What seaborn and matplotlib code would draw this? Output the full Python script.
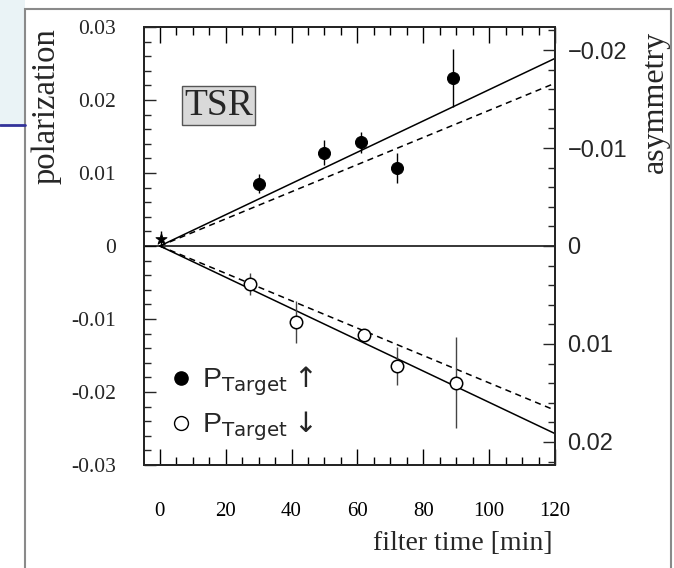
import numpy as np
import pandas as pd
import matplotlib
matplotlib.use("Agg")
import matplotlib.pyplot as plt
import seaborn as sns
from matplotlib.lines import Line2D
from matplotlib.patches import Rectangle
from matplotlib.ticker import MultipleLocator, FixedLocator, FixedFormatter

# values
up_time = [30, 50, 61, 72, 89]
up_pol = [0.0085, 0.0128, 0.0142, 0.0107, 0.0230]
up_err = [0.0013, 0.0017, 0.0014, 0.0021, 0.0040]

down_time = [27.5, 41.5, 62, 72, 90]
down_pol = [-0.0052, -0.0104, -0.0122, -0.0164, -0.0187]
down_err = [0.0015, 0.0029, 0.0008, 0.0026, 0.0062]

star_time = [0.3]
star_pol = [0.001]
star_err = [0.0011]

fit_time = [0, 120]
fit_up_solid = [0, 0.0257]
fit_up_dash = [0, 0.0223]
fit_down_solid = [0, -0.0257]
fit_down_dash = [0, -0.0225]

pol_ticks = [-0.03, -0.02, -0.01, 0, 0.01, 0.02, 0.03]
pol_labels = ['-0.03', '-0.02', '-0.01', '0', '0.01', '0.02', '0.03']
asym_ticks = [-0.02, -0.01, 0, 0.01, 0.02]
asym_labels = ['\u22120.02', '\u22120.01', '0', '0.01', '0.02']
time_ticks = [0, 20, 40, 60, 80, 100, 120]

sns.set_theme(style="ticks")
plt.rcParams['font.family'] = ['Liberation Serif', 'DejaVu Serif']
plt.rcParams['mathtext.fontset'] = 'custom'
plt.rcParams['mathtext.rm'] = 'Liberation Sans'
plt.rcParams['mathtext.sf'] = 'Liberation Sans Narrow'

W, H = 674, 568
fig = plt.figure(figsize=(W / 100, H / 100), dpi=100)
fig.patch.set_facecolor('white')

# slide decoration: pale blue corner, blue rule, grey frame
fig.patches.append(Rectangle((0, 1 - 125 / H), 25 / W, 125 / H, transform=fig.transFigure,
                             facecolor='#eaf3f6', edgecolor='none', zorder=0))
fig.lines.append(Line2D([0, 25 / W], [1 - 125 / H, 1 - 125 / H], transform=fig.transFigure,
                        color='#33339a', lw=2))
fig.patches.append(Rectangle((25 / W, -0.05), 646 / W, 1.05 - 9 / H, transform=fig.transFigure,
                             facecolor='none', edgecolor='#8a8a8a', lw=1.5, zorder=1))

ax = fig.add_axes([144 / W, 1 - 465 / H, 411 / W, 438 / H])
ax.set_facecolor('none')

# fit lines
lines = pd.DataFrame({'t': fit_time * 4,
                      'p': fit_up_solid + fit_up_dash + fit_down_solid + fit_down_dash,
                      'fit': ['us'] * 2 + ['ud'] * 2 + ['ds'] * 2 + ['dd'] * 2})
sns.lineplot(data=lines, x='t', y='p', units='fit', estimator=None, style='fit',
             dashes={'us': '', 'ud': (4, 3), 'ds': '', 'dd': (4, 3)},
             color='black', lw=1.1, legend=False, ax=ax)
ax.axhline(0, color='black', lw=1.1)

# error bars and points
ax.errorbar(up_time, up_pol, yerr=up_err, fmt='none', ecolor='black', elinewidth=1, capsize=0)
ax.errorbar(down_time, down_pol, yerr=down_err, fmt='none', ecolor='#444444', elinewidth=1, capsize=0)
ax.errorbar(star_time, star_pol, yerr=star_err, fmt='none', ecolor='black', elinewidth=1, capsize=0)
sns.scatterplot(x=up_time, y=up_pol, marker='o', s=75, color='black', edgecolor='black', ax=ax, zorder=5)
sns.scatterplot(x=down_time, y=down_pol, marker='o', s=80, facecolor='white', edgecolor='black',
                linewidth=1.1, ax=ax, zorder=5)
sns.scatterplot(x=star_time, y=star_pol, marker='*', s=70, color='black', edgecolor='black', ax=ax, zorder=5)

ax.set_xlim(-4.8, 120)
ax.set_ylim(-0.03, 0.03)
ax.set_xlabel('')
ax.set_ylabel('')

ax.xaxis.set_major_locator(FixedLocator(time_ticks))
ax.xaxis.set_minor_locator(MultipleLocator(5))
ax.yaxis.set_major_locator(FixedLocator(pol_ticks))
ax.yaxis.set_major_formatter(FixedFormatter(pol_labels))
ax.yaxis.set_minor_locator(MultipleLocator(0.002))
ax.tick_params(axis='x', which='both', direction='in', top=True, bottom=True, width=1,
               labelsize=15, pad=27, colors='black')
ax.tick_params(axis='x', which='major', length=11.5)
ax.tick_params(axis='x', which='minor', length=6)
ax.tick_params(axis='y', which='both', direction='in', left=True, right=False, width=1,
               labelsize=15.5, pad=20)
ax.tick_params(axis='y', which='major', length=8.5)
ax.tick_params(axis='y', which='minor', length=5)
for s in ax.spines.values():
    s.set_linewidth(1.4)
    s.set_color('black')

# right axis: asymmetry
ax2 = ax.twinx()
ax2.set_ylim(0.02235, -0.02235)
ax2.yaxis.set_major_locator(FixedLocator(asym_ticks))
ax2.yaxis.set_major_formatter(FixedFormatter(asym_labels))
ax2.yaxis.set_minor_locator(MultipleLocator(0.002))
ax2.tick_params(axis='y', which='both', direction='in', right=True, width=1, pad=9)
ax2.tick_params(axis='y', which='major', length=9)
ax2.tick_params(axis='y', which='minor', length=5)
for lab in ax2.get_yticklabels():
    lab.set_family(['Liberation Sans', 'DejaVu Sans'])
    lab.set_fontsize(17)
for s in ax2.spines.values():
    s.set_linewidth(1.4)

# axis titles placed where the reference has them
fig.text(46 / W, 1 - 106 / H, 'polarization', rotation=90, fontsize=23.5, ha='center', va='center')
fig.text(655 / W, 1 - 102 / H, 'asymmetry', rotation=90, fontsize=23, ha='center', va='center')
fig.text(463 / W, 1 - 543 / H, 'filter time [min]', fontsize=20, ha='center', va='center')

ax.text(0.181, 0.821, 'TSR', transform=ax.transAxes, fontsize=27, ha='center', va='center',
        bbox=dict(boxstyle='square,pad=0.06', facecolor='#d9d9d9', edgecolor='#555555', lw=1))

handles = [Line2D([], [], marker='o', ls='none', color='black', markersize=9.5),
           Line2D([], [], marker='o', ls='none', markerfacecolor='white', markeredgecolor='black',
                  markersize=10, markeredgewidth=1)]
labels = ['$\\mathrm{P}_{\\mathsf{Target}}$\u2009\u2191', '$\\mathrm{P}_{\\mathsf{Target}}$\u2009\u2193']
leg = ax.legend(handles, labels, loc='upper left', bbox_to_anchor=(0.03, 0.255), frameon=False,
                prop={'family': ['DejaVu Sans'], 'size': 20.5}, handletextpad=0.3,
                labelspacing=0.4, handlelength=0.9, borderaxespad=0)

fig.savefig('out.png', dpi=100)
